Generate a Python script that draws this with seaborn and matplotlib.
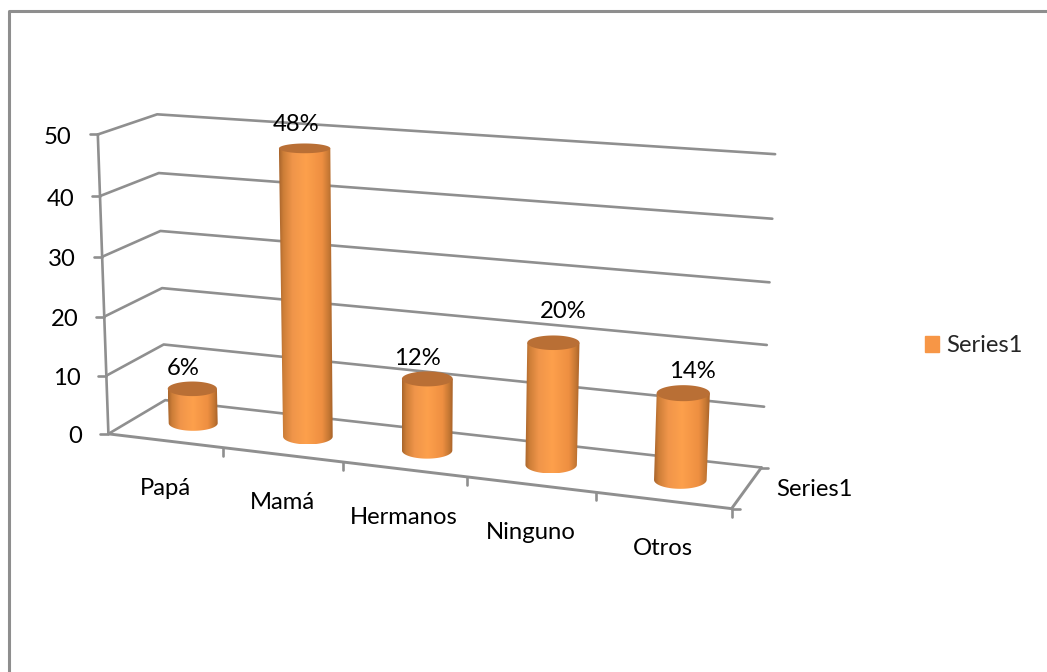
import numpy as np
import matplotlib
matplotlib.use("Agg")
import matplotlib.pyplot as plt
from matplotlib.colors import LinearSegmentedColormap
from matplotlib.patches import Patch, Polygon
import seaborn as sns

categories = ["Papá", "Mamá", "Hermanos", "Ninguno", "Otros"]
values = [6, 48, 12, 20, 14]
value_labels = ["6%", "48%", "12%", "20%", "14%"]
y_ticks = [0, 10, 20, 30, 40, 50]
series_name = "Series1"

GRID = "#8f8f8f"
ORANGE = "#f79646"
TOP = "#b96f35"
Y_MAX = 50
FONT = 17.2

# where the corners of the 3d box land in the picture: (u, v, z) -> (px, py)
anchors = [
    ((0, 0, 0), (110, 433)), ((1, 0, 0), (732, 510)),
    ((0, 1, 0), (164, 402)), ((1, 1, 0), (762, 465)),
    ((0, 0, 1), (97, 134)), ((0, 1, 1), (158, 114)), ((1, 1, 1), (775, 155)),
    ((0.2, 0, 0), (223, 447)), ((0.4, 0, 0), (343, 462)),
    ((0.6, 0, 0), (466, 477)), ((0.8, 0, 0), (596, 493)),
]


def fit_camera(points):
    """Least squares fit of a projective camera to the anchors"""
    rows, rhs = [], []
    for (u, v, z), (px, py) in points:
        rows.append([u, v, z, 1, 0, 0, 0, 0, -px * u, -px * v, -px * z])
        rows.append([0, 0, 0, 0, u, v, z, 1, -py * u, -py * v, -py * z])
        rhs += [px, py]
    sol = np.linalg.lstsq(np.array(rows, float), np.array(rhs, float), rcond=None)[0]
    return np.append(sol, 1).reshape(3, 4)


CAM = fit_camera(anchors)


def project(u, v, val):
    u, v, z = np.broadcast_arrays(u, v, np.asarray(val, float) / Y_MAX)
    pts = CAM @ np.stack([u, v, z, np.ones_like(u, dtype=float)])
    return pts[0] / pts[2], pts[1] / pts[2]


def line3d(ax, u, v, val, lw=1.9):
    x, y = project(np.array(u, float), np.array(v, float), np.array(val, float))
    sns.lineplot(x=x, y=y, sort=False, estimator=None, color=GRID, linewidth=lw, ax=ax)


def stub(ax, x, y):
    sns.lineplot(x=x, y=y, sort=False, estimator=None, color=GRID, linewidth=1.9, ax=ax)


def flat_ellipse(u0, value):
    """Projected disc, kept level the way the original draws its cylinder ends"""
    t = np.linspace(0, 2 * np.pi, 121)
    x, y = project(u0 + 0.0385 * np.cos(t), 0.5 + 0.21 * np.sin(t), value)
    cx, cy = (x.min() + x.max()) / 2, (y.min() + y.max()) / 2
    return cx, cy, (x.max() - x.min()) / 2, (y.max() - y.min()) / 2


def cylinder(ax, u0, value, cmap):
    tcx, tcy, tw, th = flat_ellipse(u0, value)
    bcx, bcy, bw, bh = flat_ellipse(u0, 0)
    t = np.linspace(np.pi, 0, 61)
    base_x, base_y = bcx + bw * np.cos(t), bcy + bh * np.sin(t)
    body = [(tcx - tw, tcy)] + list(zip(base_x, base_y)) + [(tcx + tw, tcy)]
    patch = Polygon(body, closed=True, transform=ax.transData, fc="none", ec="none")
    ax.add_patch(patch)
    img = ax.imshow(np.linspace(0, 1, 200)[None, :], cmap=cmap, aspect="auto", zorder=3,
                    extent=(min(tcx - tw, bcx - bw), max(tcx + tw, bcx + bw), bcy + bh, tcy))
    img.set_clip_path(patch)
    t = np.linspace(0, 2 * np.pi, 121)
    ax.fill(tcx + tw * np.cos(t), tcy + th * np.sin(t), color=TOP, lw=0, zorder=4)
    return tcx, tcy


sns.set_theme(style="white")
plt.rcParams["font.family"] = ["Lato", "DejaVu Sans"]

fig = plt.figure(figsize=(10.47, 6.72), dpi=100, facecolor="white")
ax = fig.add_axes([0, 0, 1, 1])

# walls
for val in y_ticks:
    line3d(ax, [0, 0, 1], [0, 1, 1], [val, val, val])

# axes and tick stubs
line3d(ax, [0, 0], [0, 0], [0, Y_MAX])
line3d(ax, [0, 1, 1], [0, 0, 1], [0, 0, 0], lw=2.1)
for val in y_ticks:
    x, y = project(0, 0, val)
    stub(ax, [x - 8, x], [y, y])
    ax.text(x - 26, y + 3, str(val), ha="right", va="center", fontsize=FONT, color="black")
for i in range(1, 6):
    x, y = project(i / len(categories), 0, 0)
    stub(ax, [x, x], [y, y + 8])
x, y = project(1, 0, 0)
stub(ax, [x, x + 8], [y, y])
x, y = project(1, 1, 0)
stub(ax, [x, x + 7], [y, y])
ax.text(x + 53, y + 22, series_name, ha="center", va="center", fontsize=FONT, color="black")

cmap = LinearSegmentedColormap.from_list(
    "cyl", [(0, "#a9652c"), (0.08, "#cd7e38"), (0.25, "#f0954a"), (0.5, "#fda04c"),
            (0.8, "#ee8f41"), (0.93, "#c47733"), (1, "#a86229")])

# small nudges so the labels sit where the original put them
label_shift = [(-9, -20), (-9, -24), (-10, -20), (10, -31), (9, -22)]
for i, (val, text) in enumerate(zip(values, value_labels)):
    u0 = (i + 0.5) / len(categories)
    cx, cy = cylinder(ax, u0, val, cmap)
    dx, dy = label_shift[i]
    ax.text(cx + dx, cy + dy, text, ha="center", va="center", fontsize=FONT, color="black", zorder=6)
    lx, ly = project(u0, 0, 0)
    ax.text(lx, ly + 48, categories[i], ha="center", va="center", fontsize=FONT, color="black")

ax.legend(handles=[Patch(color=ORANGE, label=series_name)], loc="center left",
          bbox_to_anchor=(903 / 1047, 1 - 346 / 672), frameon=False, fontsize=FONT,
          handlelength=0.62, handleheight=0.62, handletextpad=0.3)

# chart area border runs off the picture on the right and bottom
sns.lineplot(x=[9, 9, 1047], y=[672, 11, 11], sort=False, estimator=None, color="#8e8e8e", linewidth=2.2, ax=ax)

ax.set_xlim(0, 1047)
ax.set_ylim(672, 0)
ax.axis("off")
fig.savefig("out.png", dpi=100)
